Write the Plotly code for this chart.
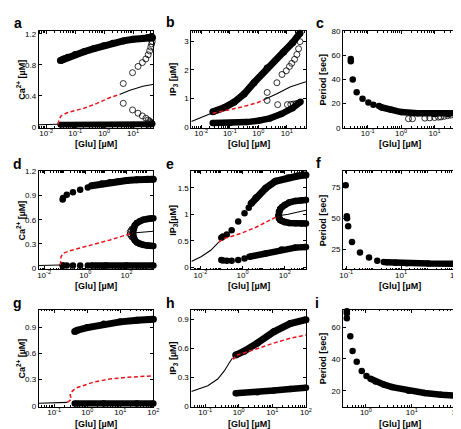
import numpy as np
import plotly.graph_objects as go

W, H = 461, 429

# ---------------- data (x = log10 [Glu] in uM) ----------------
# panel a : Ca2+
a_ss_lo_x = [-2.26, -1.9, -1.6]
a_ss_lo_y = [0.03, 0.032, 0.035]
a_un_x = [-1.6, -1.58, -1.55, -1.49, -1.3, -1.15, -0.7, -0.25, 0.21, 0.55]
a_un_y = [0.035, 0.07, 0.1, 0.143, 0.18, 0.198, 0.241, 0.305, 0.38, 0.423]
a_ss_hi_x = [0.55, 0.89, 1.34, 1.72]
a_ss_hi_y = [0.423, 0.474, 0.525, 0.55]
a_max_x = [-1.51, -1.45, -1.38, -1.26, -1.0, -0.7, -0.35, -0.02, 0.3, 0.66, 1.0, 1.34, 1.5, 1.6, 1.65, 1.67]
a_max_y = [0.855, 0.865, 0.88, 0.897, 0.935, 0.969, 1.01, 1.045, 1.08, 1.109, 1.13, 1.143, 1.152, 1.158, 1.16, 1.15]
a_min_x = [-1.51, -1.0, 0.0, 1.0, 1.5, 1.62, 1.66]
a_min_y = [0.028, 0.027, 0.027, 0.028, 0.03, 0.035, 0.045]
a_umax_x = [0.66, 0.98, 1.17, 1.32, 1.44, 1.52, 1.57, 1.61, 1.64, 1.66]
a_umax_y = [0.56, 0.70, 0.78, 0.83, 0.876, 0.93, 0.98, 1.03, 1.07, 1.10]
a_umin_x = [0.66, 0.98, 1.17, 1.32, 1.44, 1.52, 1.57, 1.61, 1.64, 1.66]
a_umin_y = [0.305, 0.22, 0.178, 0.143, 0.114, 0.09, 0.075, 0.06, 0.05, 0.04]

# panel b : IP3
b_ss_lo_x = [-2.35, -2.0, -1.6]
b_ss_lo_y = [0.19, 0.34, 0.50]
b_un_x = [-1.6, -1.19, -0.62, -0.04, 0.21]
b_un_y = [0.48, 0.57, 0.69, 0.85, 0.96]
b_ss_hi_x = [0.21, 0.65, 1.11, 1.67]
b_ss_hi_y = [0.96, 1.16, 1.40, 1.585]
b_max_x = [-1.595, -1.19, -0.846, -0.5, -0.153, 0.308, 0.885, 1.2, 1.46]
b_max_y = [0.532, 0.679, 0.872, 1.156, 1.553, 2.063, 2.63, 2.95, 3.287]
b_min_x = [-1.6, -1.0, -0.4, 0.0, 0.4, 0.8, 1.2, 1.48]
b_min_y = [0.135, 0.14, 0.17, 0.22, 0.3, 0.45, 0.66, 0.88]
b_umax_x = [0.31, 0.65, 0.83, 0.98, 1.09, 1.17, 1.27, 1.35, 1.41, 1.46]
b_umax_y = [1.21, 1.55, 1.84, 1.97, 2.12, 2.23, 2.37, 2.54, 2.74, 2.99]
b_umin_x = [0.308, 0.677, 1.02, 1.138, 1.23, 1.32, 1.405]
b_umin_y = [0.929, 0.782, 0.782, 0.793, 0.803, 0.816, 0.837]

# panel c : period
c_sp_x = [-1.506, -1.506, -1.447, -1.33, -1.155, -0.98, -0.83, -0.66]
c_sp_y = [57, 55, 40, 29.5, 24, 21, 19, 18]
c_de_x = [-0.6, -0.3, 0.0, 0.5, 1.0, 1.4, 1.6, 1.66]
c_de_y = [17, 15, 13, 12, 11.5, 11.5, 12, 12.8]
c_u_x = [0.22, 0.34, 0.71, 0.855, 1.0, 1.12, 1.19, 1.29, 1.39, 1.49]
c_u_y = [7.5, 7.5, 8, 8.2, 8.5, 8.8, 9, 9.5, 10, 10.5]

# panel d : Ca2+
d_ss_lo_x = [-2.26, -1.6, -1.21]
d_ss_lo_y = [0.033, 0.036, 0.04]
d_un_x = [-1.21, -1.2, -1.18, -1.1, -1.02, -0.7, -0.38, 0.41, 1.2, 1.84, 2.31]
d_un_y = [0.04, 0.09, 0.142, 0.175, 0.19, 0.22, 0.242, 0.29, 0.35, 0.40, 0.436]
d_ss_hi_x = [2.31, 2.8, 3.3]
d_ss_hi_y = [0.436, 0.45, 0.457]
d_spmax_x = [-1.1, -1.08, -0.9, -0.6, -0.25, 0.12]
d_spmax_y = [0.85, 0.87, 0.91, 0.94, 0.97, 1.0]
d_spmin_x = [-1.1, -1.08, -0.9, -0.6, -0.25, 0.12]
d_spmin_y = [0.035, 0.035, 0.035, 0.035, 0.035, 0.035]
d_max_x = [0.3, 0.8, 1.2, 1.6, 2.0, 2.5, 3.0, 3.3]
d_max_y = [1.02, 1.045, 1.06, 1.075, 1.087, 1.095, 1.10, 1.10]
d_min_x = [0.3, 1.0, 2.0, 3.3]
d_min_y = [0.035, 0.035, 0.035, 0.035]
d_tu_x = [2.31, 2.33, 2.4, 2.5, 2.65, 2.8, 3.0, 3.15, 3.3]
d_tu_y = [0.44, 0.49, 0.53, 0.56, 0.585, 0.6, 0.61, 0.615, 0.618]
d_tl_x = [2.31, 2.33, 2.4, 2.5, 2.65, 2.8, 3.0, 3.15, 3.3]
d_tl_y = [0.43, 0.38, 0.345, 0.32, 0.3, 0.29, 0.28, 0.278, 0.275]
d_u_x = [2.15, 2.2, 2.25, 2.15, 2.2, 2.25]
d_u_y = [0.45, 0.47, 0.49, 0.42, 0.40, 0.38]

# panel e : IP3
e_ss_lo_x = [-2.43, -1.97, -1.51, -1.21, -1.13]
e_ss_lo_y = [0.106, 0.198, 0.32, 0.44, 0.475]
e_un_x = [-1.13, -0.9, -0.14, 0.63, 1.24, 1.70]
e_un_y = [0.475, 0.537, 0.63, 0.754, 0.878, 0.97]
e_ss_hi_x = [1.70, 2.16, 3.0]
e_ss_hi_y = [0.97, 1.0, 1.074]
e_spmax_x = [-1.01, -0.93, -0.75, -0.52, -0.21, 0.09, 0.29]
e_spmax_y = [0.556, 0.58, 0.618, 0.70, 0.864, 1.02, 1.124]
e_spmin_x = [-1.01, -0.93, -0.75, -0.52, -0.21, 0.09]
e_spmin_y = [0.136, 0.128, 0.124, 0.124, 0.136, 0.167]
e_max_x = [0.4, 0.63, 1.09, 1.55, 2.16, 2.6, 3.0]
e_max_y = [1.2, 1.31, 1.49, 1.62, 1.69, 1.72, 1.74]
e_min_x = [0.32, 1.09, 1.85, 2.5, 3.0]
e_min_y = [0.198, 0.26, 0.333, 0.37, 0.383]
e_tu_x = [1.70, 1.72, 1.78, 1.88, 2.0, 2.2, 2.5, 2.8, 3.0]
e_tu_y = [0.97, 1.05, 1.1, 1.14, 1.18, 1.22, 1.25, 1.265, 1.27]
e_tl_x = [1.70, 1.72, 1.78, 1.88, 2.0, 2.2, 2.5, 2.8, 3.0]
e_tl_y = [0.97, 0.92, 0.89, 0.87, 0.85, 0.835, 0.83, 0.825, 0.825]

# panel f : period
f_sp_x = [-1.02, -0.98, -0.97, -0.93, -0.79, -0.5, -0.17, 0.13, 0.37]
f_sp_y = [76.5, 51.5, 50, 43.5, 31, 22.5, 18.5, 16, 15]
f_de_x = [0.45, 0.8, 1.2, 2.0, 3.0]
f_de_y = [14.8, 14.3, 14.0, 13.7, 13.5]

# panel g : Ca2+
g_ss_lo_x = [-1.47, -1.0, -0.6]
g_ss_lo_y = [0.03, 0.035, 0.04]
g_un_x = [-0.6, -0.5, -0.48, -0.52, -0.5, -0.42, -0.3, 0.18, 0.67, 1.17, 1.97]
g_un_y = [0.04, 0.07, 0.09, 0.12, 0.15, 0.18, 0.21, 0.27, 0.306, 0.325, 0.343]
g_max_x = [-0.38, -0.3, 0.0, 0.5, 1.0, 1.5, 2.0]
g_max_y = [0.85, 0.865, 0.895, 0.935, 0.96, 0.978, 0.99]
g_min_x = [-0.38, 0.5, 1.5, 2.0]
g_min_y = [0.028, 0.028, 0.028, 0.028]

# panel h : IP3
h_ss_lo_x = [-1.41, -0.92, -0.625, -0.43, -0.28, -0.185]
h_ss_lo_y = [0.15, 0.21, 0.28, 0.365, 0.45, 0.50]
h_un_x = [-0.185, -0.15, -0.12, -0.09, 0.16, 0.55, 1.04, 1.53, 2.0]
h_un_y = [0.50, 0.49, 0.51, 0.525, 0.553, 0.60, 0.655, 0.706, 0.74]
h_max_x = [-0.09, 0.16, 0.55, 1.04, 1.53, 2.0]
h_max_y = [0.53, 0.57, 0.655, 0.774, 0.86, 0.90]
h_min_x = [-0.09, 0.55, 1.04, 1.53, 2.0]
h_min_y = [0.133, 0.143, 0.16, 0.177, 0.19]

# panel i : period
i_sp_x = [-0.415, -0.415, -0.415, -0.34, -0.29, -0.2, -0.09, 0.013]
i_sp_y = [70, 68.7, 65.6, 54.2, 45, 38.2, 32.4, 29.3]
i_de_x = [0.1, 0.21, 0.4, 0.57, 0.93, 1.28, 1.64, 2.0]
i_de_y = [27.5, 25.8, 23.8, 22.3, 20, 18.6, 17.5, 16.9]

# ---------------- figure ----------------
fig = go.Figure()
FONT = "Liberation Sans, Arial, sans-serif"
RED = "#e8141b"
DASH = "4px,2.5px"


def sup(e):
    return "10<sup>%s</sup>" % e


def ax(k):
    return ("x" if k == 1 else "x%d" % k), ("y" if k == 1 else "y%d" % k)


def glu(lx):
    return np.power(10.0, np.asarray(lx, dtype=float))


def ln(k, lx, y, color="black", dash="solid", width=1.1):
    xa, ya = ax(k)
    fig.add_trace(go.Scatter(x=glu(lx), y=y, mode="lines", xaxis=xa, yaxis=ya,
                             line=dict(color=color, dash=dash, width=width), showlegend=False,
                             hoverinfo="skip"))


def dots(k, lx, y, size=6.5):
    xa, ya = ax(k)
    fig.add_trace(go.Scatter(x=glu(lx), y=y, mode="markers", xaxis=xa, yaxis=ya, cliponaxis=False,
                             marker=dict(color="black", size=size, line=dict(width=0)),
                             showlegend=False, hoverinfo="skip"))


def band(k, lx, y, width=6.5):
    xa, ya = ax(k)
    fig.add_trace(go.Scatter(x=glu(lx), y=y, mode="lines+markers", xaxis=xa, yaxis=ya, cliponaxis=False,
                             line=dict(color="black", width=width),
                             marker=dict(color="black", size=width, line=dict(width=0)),
                             showlegend=False, hoverinfo="skip"))


def opens(k, lx, y, size=6):
    xa, ya = ax(k)
    fig.add_trace(go.Scatter(x=glu(lx), y=y, mode="markers", xaxis=xa, yaxis=ya, cliponaxis=False,
                             marker=dict(symbol="circle-open", color="black", size=size,
                                         line=dict(width=0.8, color="black")),
                             showlegend=False, hoverinfo="skip"))


def unst(k, lx, y):
    ln(k, lx, y, RED, DASH, 1.5)


# a
band(1, a_max_x, a_max_y, 7); band(1, a_min_x, a_min_y, 6)
opens(1, a_umax_x, a_umax_y); opens(1, a_umin_x, a_umin_y)
ln(1, a_ss_lo_x, a_ss_lo_y); unst(1, a_un_x, a_un_y); ln(1, a_ss_hi_x, a_ss_hi_y)
# b
band(2, b_max_x, b_max_y, 7); band(2, b_min_x, b_min_y, 6.5)
opens(2, b_umax_x, b_umax_y); opens(2, b_umin_x, b_umin_y)
ln(2, b_ss_lo_x, b_ss_lo_y); unst(2, b_un_x, b_un_y); ln(2, b_ss_hi_x, b_ss_hi_y)
# c
dots(3, c_sp_x, c_sp_y); band(3, c_de_x, c_de_y, 6.5); opens(3, c_u_x, c_u_y)
# d
dots(4, d_spmax_x, d_spmax_y); dots(4, d_spmin_x, d_spmin_y)
band(4, d_max_x, d_max_y, 7); band(4, d_min_x, d_min_y, 6.5)
band(4, d_tu_x, d_tu_y, 6.5); band(4, d_tl_x, d_tl_y, 6.5)
opens(4, d_u_x, d_u_y, 5)
ln(4, d_ss_lo_x, d_ss_lo_y); unst(4, d_un_x, d_un_y); ln(4, d_ss_hi_x, d_ss_hi_y)
# e
dots(5, e_spmax_x, e_spmax_y); dots(5, e_spmin_x, e_spmin_y)
band(5, e_max_x, e_max_y, 7); band(5, e_min_x, e_min_y, 6.5)
band(5, e_tu_x, e_tu_y, 6.5); band(5, e_tl_x, e_tl_y, 6.5)
ln(5, e_ss_lo_x, e_ss_lo_y); unst(5, e_un_x, e_un_y); ln(5, e_ss_hi_x, e_ss_hi_y)
# f
dots(6, f_sp_x, f_sp_y); band(6, f_de_x, f_de_y, 6.5)
# g
band(7, g_max_x, g_max_y, 7); band(7, g_min_x, g_min_y, 6.5)
ln(7, g_ss_lo_x, g_ss_lo_y); unst(7, g_un_x, g_un_y)
# h
band(8, h_max_x, h_max_y, 7); band(8, h_min_x, h_min_y, 6.5)
ln(8, h_ss_lo_x, h_ss_lo_y); unst(8, h_un_x, h_un_y)
# i
dots(9, i_sp_x, i_sp_y); band(9, i_de_x, i_de_y, 6.5)

# ---------------- axes ----------------
cols = [(27.3, 144.5), (183.3, 300.5), (338.3, 455.5)]
rows = [(19.5, 118.3), (162.7, 262.7), (304.0, 403.3)]

panels = [
    ("a", [-2.26, 1.70], [-2, -1, 0, 1], [-0.01, 1.235], [0, 0.4, 0.8, 1.2], ["0", "0.4", "0.8", "1.2"], "Ca<sup>2+</sup> [µM]"),
    ("b", [-2.35, 1.67], [-2, -1, 0, 1], [-0.03, 3.36], [0, 1, 2, 3], ["0", "1", "2", "3"], "IP<sub>3</sub> [µM]"),
    ("c", [-1.74, 1.69], [-1, 0, 1], [0, 80], [0, 20, 40, 60, 80], ["0", "20", "40", "60", "80"], "Period [sec]"),
    ("d", [-2.26, 3.3], [-2, 0, 2], [-0.012, 1.2], [0, 0.3, 0.6, 0.9, 1.2], ["0", "0.3", "0.6", "0.9", "1.2"], "Ca<sup>2+</sup> [µM]"),
    ("e", [-2.43, 3.0], [-2, 0, 2], [-0.037, 1.81], [0, 0.5, 1, 1.5], ["0", "0.5", "1", "1.5"], "IP<sub>3</sub>[µM]"),
    ("f", [-1.12, 3.06], [-1, 1, 3], [9.2, 87.6], [25, 50, 75], ["25", "50", "75"], "Period [sec]"),
    ("g", [-1.47, 2.0], [-1, 0, 1, 2], [-0.011, 1.1], [0, 0.3, 0.6, 0.9], ["0", "0.3", "0.6", "0.9"], "Ca<sup>2+</sup> [µM]"),
    ("h", [-1.41, 2.0], [-1, 0, 1, 2], [-0.01, 1.005], [0, 0.3, 0.6, 0.9], ["0", "0.3", "0.6", "0.9"], "IP<sub>3</sub> [µM]"),
    ("i", [-0.5, 2.0], [0, 1, 2], [9.9, 71], [20, 40, 60], ["20", "40", "60"], "Period [sec]"),
]

letter_pos = [(6, 11), (162, 10), (315, 11), (6, 155), (162, 155), (313, 154), (6, 297), (162, 297), (312, 297)]
xtitle_y = [135, 280, 421]
ytitle_x = [9.5, 165, 318]


def minor_vals(xr):
    vals = []
    for d in range(int(np.floor(xr[0])), int(np.ceil(xr[1])) + 1):
        for m in range(2, 10):
            v = m * 10.0 ** d
            if xr[0] < np.log10(v) < xr[1]:
                vals.append(v)
    return vals


annotations = []
tickfont = dict(family=FONT, size=8, color="black")
for k, (let, xr, xt, yr, yt, ytt, ytitle) in enumerate(panels, start=1):
    r, c = (k - 1) // 3, (k - 1) % 3
    l, rr = cols[c]
    t, b = rows[r]
    xkey = "xaxis" if k == 1 else "xaxis%d" % k
    ykey = "yaxis" if k == 1 else "yaxis%d" % k
    xa, ya = ax(k)
    fig.layout[xkey] = dict(
        type="log", range=xr, domain=[l / W, rr / W], anchor=ya,
        tickmode="array", tickvals=[10.0 ** e for e in xt], ticktext=[sup(e) for e in xt],
        ticks="inside", ticklen=3, tickwidth=0.7, tickcolor="black", ticklabelstandoff=-2,
        showline=True, linecolor="black", linewidth=0.8, mirror="ticks",
        showgrid=False, zeroline=False, tickfont=tickfont,
        minor=dict(tickmode="array", tickvals=minor_vals(xr), ticks="inside", ticklen=1.6,
                   tickwidth=0.6, tickcolor="black", showgrid=False),
    )
    fig.layout[ykey] = dict(
        range=yr, domain=[1 - b / H, 1 - t / H], anchor=xa,
        tickmode="array", tickvals=yt, ticktext=ytt,
        ticks="inside", ticklen=3, tickwidth=0.7, tickcolor="black",
        showline=True, linecolor="black", linewidth=0.8, mirror="ticks",
        showgrid=False, zeroline=False, tickfont=tickfont,
    )
    lx, ly = letter_pos[k - 1]
    annotations.append(dict(text="<b>%s</b>" % let, x=lx / W, y=1 - ly / H, xref="paper", yref="paper",
                            showarrow=False, xanchor="center", yanchor="middle",
                            font=dict(family=FONT, size=14, color="black")))
    annotations.append(dict(text="<b>[Glu] [µM]</b>", x=(l + rr) / 2 / W, y=1 - xtitle_y[r] / H,
                            xref="paper", yref="paper", showarrow=False, xanchor="center", yanchor="middle",
                            font=dict(family=FONT, size=9, color="black")))
    annotations.append(dict(text="<b>%s</b>" % ytitle, x=ytitle_x[c] / W, y=1 - (t + b) / 2 / H,
                            xref="paper", yref="paper", showarrow=False, xanchor="center", yanchor="middle",
                            textangle=-90, font=dict(family=FONT, size=9, color="black")))

fig.update_layout(width=W, height=H, autosize=False, margin=dict(l=0, r=0, t=0, b=0),
                  paper_bgcolor="white", plot_bgcolor="white", annotations=annotations,
                  font=dict(family=FONT, color="black"))

fig.write_html("out.html")
